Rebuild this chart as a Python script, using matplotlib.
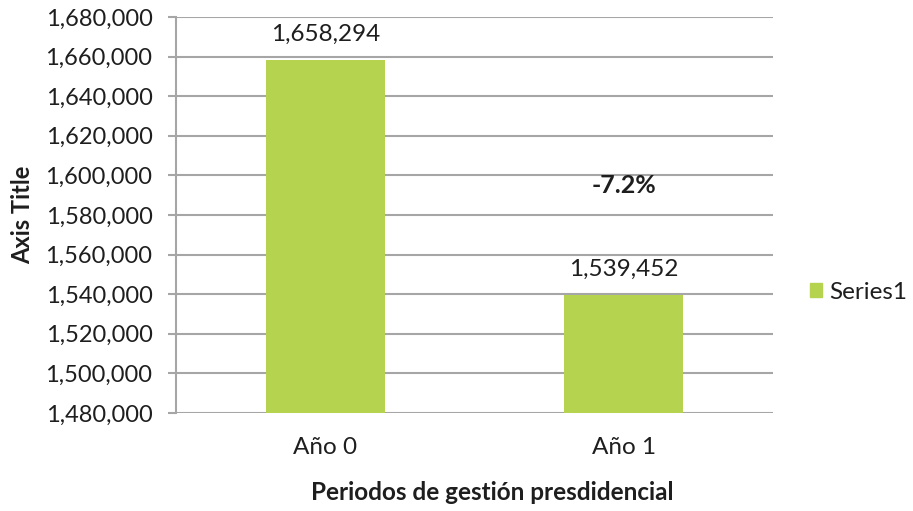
import numpy as np
import matplotlib.pyplot as plt
import matplotlib.ticker as mticker
import matplotlib.patches as mpatches

plt.rcParams['font.family'] = ['Lato', 'DejaVu Sans']

categories = ['Año 0', 'Año 1']
values = [1658294, 1539452]
change_label = '-7.2%'
change_y = 1595000

bar_color = '#B5D34E'
grid_color = '#A6A6A6'
text_color = '#1E1E1E'

fig = plt.figure(figsize=(9.13, 5.11), dpi=100)
ax = fig.add_axes([0.1928, 0.1918, 0.6539, 0.7749])

ind = np.arange(len(categories))
bars = ax.bar(ind, values, width=0.4, color=bar_color, zorder=3)

ax.set_xlim(-0.5, 1.5)
ax.set_ylim(1480000, 1680000)
ax.set_yticks(np.arange(1480000, 1680001, 20000))
ax.yaxis.set_major_formatter(mticker.FuncFormatter(lambda v, p: '{:,.0f}'.format(v)))
ax.set_xticks(ind)
ax.set_xticklabels(categories)

ax.grid(axis='y', color=grid_color, linewidth=1.5, zorder=0)
for s in ['top', 'right', 'bottom']:
    ax.spines[s].set_visible(False)
ax.spines['left'].set_color(grid_color)
ax.spines['left'].set_linewidth(1.5)
ax.tick_params(axis='y', length=6, width=1.5, color=grid_color, labelsize=17,
               labelcolor=text_color, pad=11)
ax.tick_params(axis='x', length=0, labelsize=17.5, labelcolor=text_color, pad=17)

# labels over bars
for b in bars:
    h = b.get_height()
    ax.annotate('{:,.0f}'.format(h), (b.get_x() + b.get_width() / 2, h),
                xytext=(0, 11), textcoords='offset points', ha='center', va='bottom',
                fontsize=17.5, color=text_color)

ax.text(1, change_y, change_label, ha='center', va='center', fontsize=18,
        fontweight='bold', color=text_color)

ax.set_ylabel('Axis Title', fontsize=17, fontweight='bold', color=text_color, labelpad=8)
ax.set_xlabel('Periodos de gestión presdidencial', fontsize=17.5, fontweight='bold',
              color=text_color, labelpad=17)
ax.xaxis.label.set_x(0.529)

patch = mpatches.Patch(color=bar_color, label='Series1')
fig.legend(handles=[patch], loc='center left', bbox_to_anchor=(0.887, 0.428),
           frameon=False, fontsize=17.5, handlelength=0.5, handleheight=0.5,
           handletextpad=0.3, borderpad=0, borderaxespad=0, labelcolor=text_color)

plt.savefig('out.png', dpi=100)
